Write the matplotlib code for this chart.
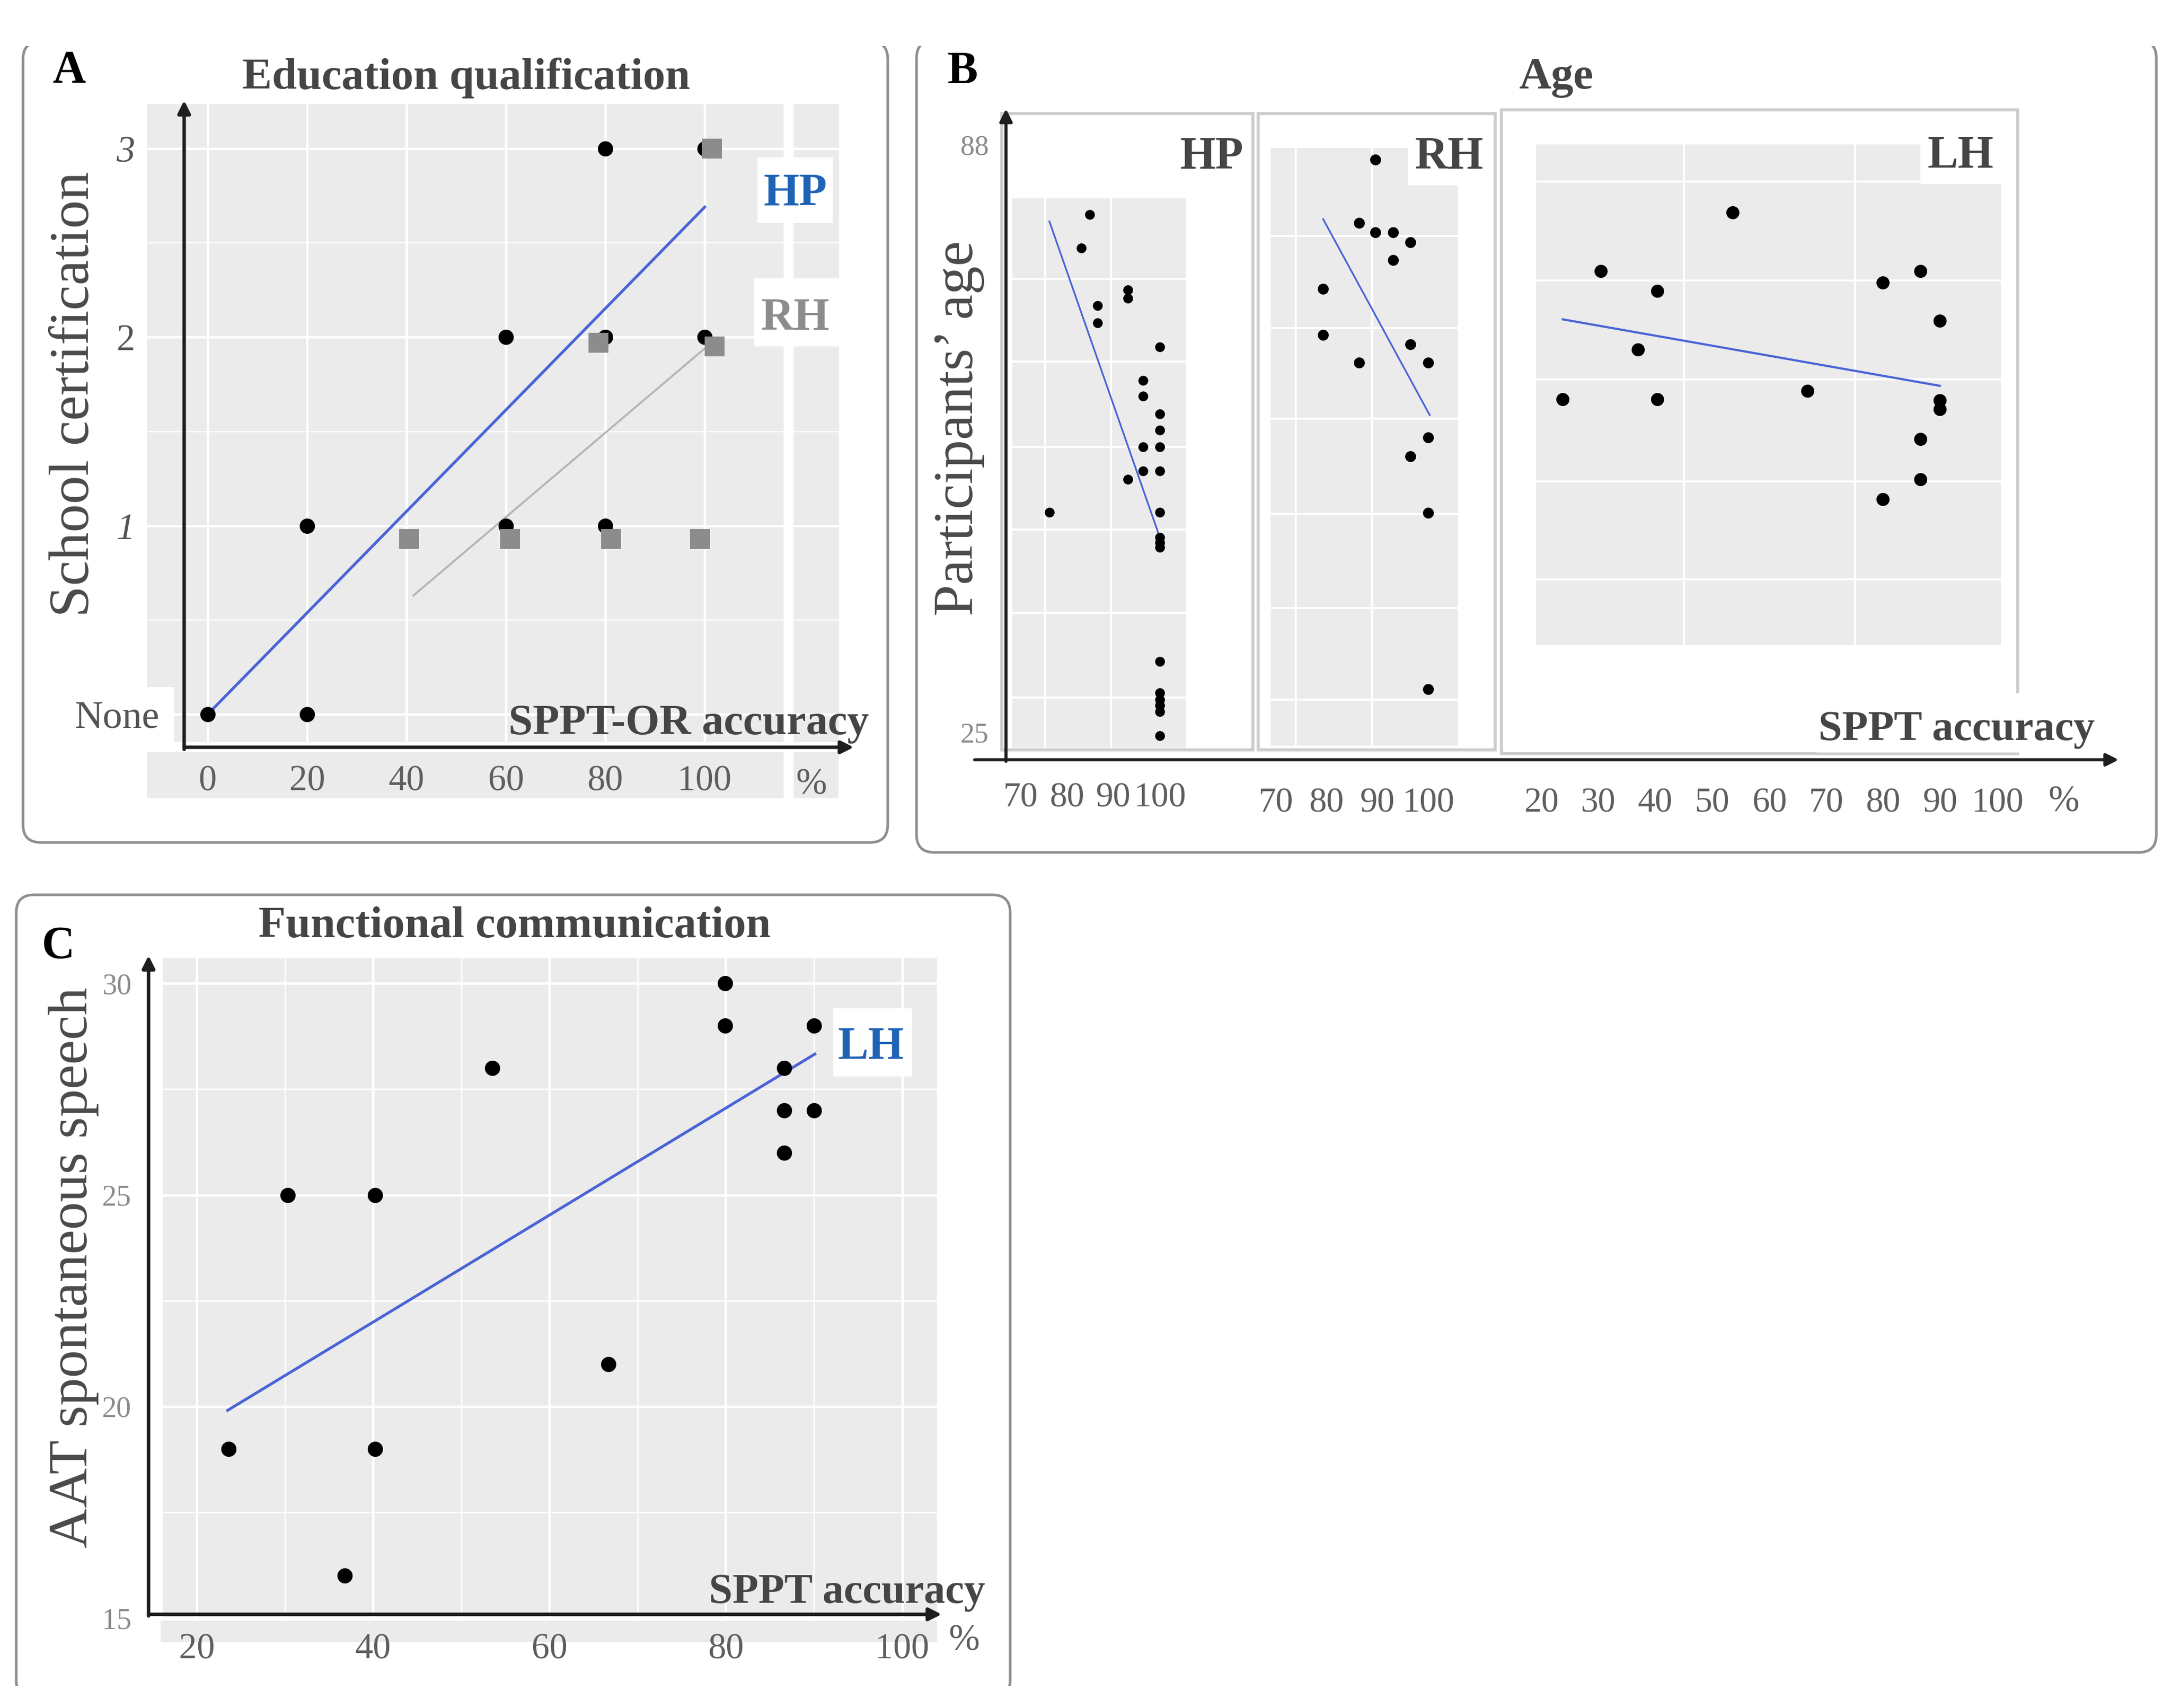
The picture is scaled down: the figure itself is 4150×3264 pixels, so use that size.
import matplotlib
matplotlib.use('Agg')
import matplotlib.pyplot as plt
from matplotlib.patches import FancyBboxPatch, Rectangle
from matplotlib.transforms import ScaledTranslation

plt.rcParams['font.family'] = ['Liberation Serif', 'DejaVu Serif']

# ------------------------------------------------------------------ data
# Panel A : school certification vs SPPT-OR accuracy
a_acc_ticks = [0, 20, 40, 60, 80, 100]
a_acc_labels = ['0', '20', '40', '60', '80', '100']
a_cert_levels = [0, 1, 2, 3]
a_cert_labels = ['None', '1', '2', '3']
a_hp_acc = [0, 20, 20, 60, 60, 80, 80, 80, 100, 100]
a_hp_cert = [0, 0, 1, 2, 1, 3, 2, 1, 3, 2]
a_rh_acc = [101.5, 78.6, 102, 40.5, 60.8, 81.2, 99]
a_rh_cert = [3.0, 1.97, 1.95, 0.93, 0.93, 0.93, 0.93]
a_hp_fit_acc = [0, 100]
a_hp_fit_cert = [0.0, 2.69]
a_rh_fit_acc = [41.4, 100]
a_rh_fit_cert = [0.63, 1.94]

# Panel B : participants' age vs SPPT accuracy, by group
b_age_ticks = [25, 88]
b_hp_ticks = [70, 80, 90, 100]
b_rh_ticks = [70, 80, 90, 100]
b_lh_ticks = [20, 30, 40, 50, 60, 70, 80, 90, 100]
b_hp_acc = [84.9, 83.1, 93.2, 93.2, 86.6, 86.6, 100, 96.4, 96.4, 100, 100, 100, 96.4,
            100, 96.4, 93.2, 76.3, 100, 100, 100, 100, 100, 100, 100, 100, 100, 100]
b_hp_age = [80.5, 76.9, 72.4, 71.5, 70.7, 68.9, 66.3, 62.7, 61.0, 59.1, 57.4, 55.6, 55.6,
            53.0, 53.0, 52.1, 48.6, 48.6, 45.9, 45.3, 44.8, 32.6, 29.2, 28.5, 27.9, 27.2, 24.6]
b_rh_acc = [89.6, 86.4, 89.6, 93.1, 96.5, 93.1, 79.3, 79.3, 96.5, 86.4, 100, 100, 96.5, 100, 100]
b_rh_age = [86.4, 79.6, 78.6, 78.6, 77.5, 75.6, 72.5, 67.6, 66.6, 64.6, 64.6, 56.6, 54.6, 48.5, 29.6]
b_lh_acc = [53.6, 30.5, 86.5, 79.9, 40.4, 89.9, 37.0, 66.7, 23.8, 40.4, 89.9, 89.9, 86.5, 86.5, 79.9]
b_lh_age = [80.7, 74.4, 74.4, 73.2, 72.3, 69.1, 66.0, 61.6, 60.7, 60.7, 60.6, 59.6, 56.4, 52.1, 50.0]
b_hp_fit_acc = [76.25, 99.8]
b_hp_fit_age = [79.74, 46.23]
b_rh_fit_acc = [79.3, 100.3]
b_rh_fit_age = [80.0, 59.0]
b_lh_fit_acc = [23.8, 89.9]
b_lh_fit_age = [69.25, 62.13]

# Panel C : AAT spontaneous speech vs SPPT accuracy (LH)
c_acc_ticks = [20, 40, 60, 80, 100]
c_aat_ticks = [15, 20, 25, 30]
c_acc = [23.6, 30.3, 36.8, 40.2, 40.2, 53.5, 66.7, 79.9, 79.9, 86.6, 86.6, 86.6, 90.0, 90.0]
c_aat = [19, 25, 16, 25, 19, 28, 21, 30, 29, 28, 27, 26, 29, 27]
c_fit_acc = [23.5, 90.1]
c_fit_aat = [19.91, 28.33]

# ------------------------------------------------------------------ layout helpers
W, H = 4150, 3264
DPI = 300
PT = 72.0 / DPI
GRAY = '#EBEBEB'
DARK = '#454545'
BLUE_LINE = '#4a64d6'
BLUE_TXT = '#1f63b5'
TICK = '#5e5e5e'
LIGHT_TICK = '#8a8a8a'

fig = plt.figure(figsize=(W / DPI, H / DPI), dpi=DPI)


def rect(x0, y0, x1, y1):
    return [x0 / W, 1 - y1 / H, (x1 - x0) / W, (y1 - y0) / H]


bg = fig.add_axes([0, 0, 1, 1], zorder=-5)
bg.set_xlim(0, W); bg.set_ylim(H, 0); bg.axis('off')
fg = fig.add_axes([0, 0, 1, 1], zorder=10)
fg.set_xlim(0, W); fg.set_ylim(H, 0); fg.axis('off')


def panel_box(x0, y0, x1, y1, clip):
    p = FancyBboxPatch((x0, y0), x1 - x0, y1 - y0,
                       boxstyle='round,pad=0,rounding_size=34',
                       fc='none', ec='#8f8f8f', lw=1.2, zorder=1)
    bg.add_patch(p)
    cr = Rectangle((clip[0], clip[1]), clip[2] - clip[0], clip[3] - clip[1],
                   transform=bg.transData)
    p.set_clip_path(cr)


def bg_rect(x0, y0, x1, y1, fc='none', ec='none', lw=0, z=2):
    bg.add_patch(Rectangle((x0, y0), x1 - x0, y1 - y0, fc=fc, ec=ec, lw=lw, zorder=z))


def white_box(ax, x0, y0, x1, y1):
    ax.add_patch(Rectangle((x0, y0), x1 - x0, y1 - y0, transform=fg.transData,
                           fc='white', ec='none', zorder=0.3, clip_on=False))


def style_panel(ax):
    ax.set_facecolor(GRAY)
    for s in ax.spines.values():
        s.set_visible(False)
    ax.tick_params(which='both', length=0)


def arrow(x0, y0, x1, y1, lw):
    fg.annotate('', xy=(x1, y1), xytext=(x0, y0),
                arrowprops=dict(arrowstyle='-|>', color='#1e1e1e', lw=lw,
                                mutation_scale=12, shrinkA=0, shrinkB=0))


def ftext(x, y, s, size, color=DARK, weight='bold', ha='center', va='baseline', **kw):
    fg.text(x, y, s, fontsize=size, color=color, fontweight=weight, ha=ha, va=va, **kw)


# panel frames
panel_box(44, 79, 1697, 1610, (0, 88, W, H))
panel_box(1752, 77, 4122, 1629, (0, 88, W, H))
panel_box(31, 1710, 1931, 3245, (0, 0, W, 3222))

# ------------------------------------------------------------------ Panel A
bg_rect(281, 1437, 1603, 1525, fc=GRAY)
axA = fig.add_axes(rect(281, 199, 1604, 1418))
style_panel(axA)
accA = lambda px: (px - 397) / 9.5
certA = lambda py: (1365 - py) / 360.3
axA.set_xlim(accA(281), accA(1604))
axA.set_ylim(certA(1418), certA(199))
axA.set_xticks(a_acc_ticks, a_acc_labels)
axA.set_yticks(a_cert_levels, a_cert_labels)
axA.set_yticks([0.5, 1.5, 2.5], minor=True)
axA.grid(which='major', color='white', lw=1.1)
axA.grid(which='minor', color='white', lw=0.55)
axA.xaxis.set_zorder(2.0)
axA.tick_params(axis='x', labelsize=16.5, labelcolor=TICK, pad=(1494 - 1418) * PT)
axA.tick_params(axis='y', labelsize=17, labelcolor='#555555', pad=23 * PT)
for lab in axA.get_xticklabels():
    lab.set_va('center')
yt = axA.yaxis.get_major_ticks()
yt[0].label1.set_fontsize(18)
yt[0].label1.set_transform(yt[0].label1.get_transform() +
                           ScaledTranslation(47 / DPI, 0, fig.dpi_scale_trans))
for i in (1, 3):
    yt[i].label1.set_fontstyle('italic')

white_box(axA, 1498, 199, 1517, 1525)
white_box(axA, 1448, 301, 1592, 426)
white_box(axA, 1442, 532, 1613, 662)
white_box(axA, 120, 1313, 333, 1433)

axA.plot(a_hp_fit_acc, a_hp_fit_cert, color=BLUE_LINE, lw=1.3, zorder=3)
axA.plot(a_rh_fit_acc, a_rh_fit_cert, color='#b4b4b4', lw=0.9, zorder=3)
axA.scatter(a_hp_acc, a_hp_cert, s=7 ** 2, c='black', lw=0, zorder=4, clip_on=False)
axA.scatter(a_rh_acc, a_rh_cert, s=9 ** 2, marker='s', c='#8c8c8c', lw=0, zorder=5, clip_on=False)

axA.set_ylabel('School certification', fontsize=26, color='#4a4a4a')
axA.yaxis.set_label_coords(143, 753, transform=fg.transData)
axA.yaxis.label.set_va('center')
axA.set_xlabel('SPPT-OR accuracy', fontsize=20, color=DARK, fontweight='bold')
axA.xaxis.set_label_coords(1317, 1403, transform=fg.transData)
axA.xaxis.label.set_va('baseline')

arrow(352, 1432, 352, 192, 1.6)
arrow(352, 1428, 1632, 1428, 1.6)
ftext(132, 157, 'A', 21, color='black')
ftext(891, 170, 'Education qualification', 20.5)
ftext(1520, 391, 'HP', 21, color=BLUE_TXT)
ftext(1520, 630, 'RH', 21, color='#8c8c8c')
ftext(1551, 1517, '%', 17, color=TICK, weight='normal')

# ------------------------------------------------------------------ Panel B
age = lambda py: 88 - (py - 276) / 17.83

# facet borders
for (x0, y0, x1, y1) in [(1915, 217, 2395, 1433), (2405, 217, 2858, 1433), (2870, 210, 3857, 1440)]:
    bg_rect(x0, y0, x1, y1, ec='#cdcdcd', lw=1.4, z=2)
bg_rect(3473, 1325, 4014, 1438, fc='white', z=3)

axBy = fig.add_axes(rect(1923, 212, 1935, 1452))
axBy.set_facecolor('none')
for s in axBy.spines.values():
    s.set_visible(False)
axBy.set_ylim(age(1452), age(212))
axBy.set_xticks([])
axBy.set_yticks(b_age_ticks, [str(t) for t in b_age_ticks])
axBy.tick_params(axis='y', length=0, labelsize=13, labelcolor=LIGHT_TICK, pad=8)
axBy.set_ylabel('Participants’ age', fontsize=26, color='#4a4a4a')
axBy.yaxis.set_label_coords(1833, 818, transform=fg.transData)
axBy.yaxis.label.set_va('center')


def facet(x0, y0, x1, y1, accfun, ticks, tick_cy, xgrid, ygrid):
    ax = fig.add_axes(rect(x0, y0, x1, y1))
    style_panel(ax)
    ax.set_xlim(accfun(x0), accfun(x1))
    ax.set_ylim(age(y1), age(y0))
    ax.set_xticks(ticks, [str(t) for t in ticks])
    ax.set_xticks(xgrid, minor=True)
    ax.set_yticks([])
    ax.set_yticks(ygrid, minor=True)
    ax.grid(False, which='major')
    ax.grid(True, which='minor', color='white', lw=0.9)
    ax.xaxis.set_zorder(2.0)
    ax.tick_params(axis='x', which='major', labelsize=16, labelcolor=TICK,
                   pad=(tick_cy - y1) * PT)
    for lab in ax.get_xticklabels():
        lab.set_va('center')
    return ax


axHP = facet(1935, 379, 2267, 1429, lambda p: 100 + (p - 2216.7) / 8.87, b_hp_ticks, 1525,
             [75.3, 89.5], [28.7, 37.8, 46.7, 55.6, 64.7, 73.6])
axRH = facet(2429, 283, 2787, 1425, lambda p: 100 + (p - 2730) / 9.7, b_rh_ticks, 1535,
             [73.9, 89.0], [28.5, 38.3, 48.4, 58.6, 68.3, 78.2])
axLH = facet(2936, 276, 3825, 1233, lambda p: 30 + (p - 3055) / 10.9, b_lh_ticks, 1535,
             [30, 45, 60, 75, 90], [41.4, 51.9, 62.8, 73.4, 84.0])
white_box(axRH, 2692, 225, 2848, 354)
white_box(axLH, 3671, 256, 3825, 352)

axHP.plot(b_hp_fit_acc, b_hp_fit_age, color=BLUE_LINE, lw=0.8, zorder=3)
axHP.scatter(b_hp_acc, b_hp_age, s=4.5 ** 2, c='black', lw=0, zorder=4, clip_on=False)
axRH.plot(b_rh_fit_acc, b_rh_fit_age, color=BLUE_LINE, lw=0.8, zorder=3)
axRH.scatter(b_rh_acc, b_rh_age, s=5 ** 2, c='black', lw=0, zorder=4, clip_on=False)
axLH.plot(b_lh_fit_acc, b_lh_fit_age, color=BLUE_LINE, lw=1.0, zorder=3)
axLH.scatter(b_lh_acc, b_lh_age, s=6 ** 2, c='black', lw=0, zorder=4, clip_on=False)

axLH.set_xlabel('SPPT accuracy', fontsize=19.5, color=DARK, fontweight='bold')
axLH.xaxis.set_label_coords(3740, 1414, transform=fg.transData)
axLH.xaxis.label.set_va('baseline')

arrow(1923, 1455, 1923, 208, 1.4)
arrow(1863, 1452, 4050, 1452, 1.4)
ftext(1840, 159, 'B', 21, color='black')
ftext(2974, 169, 'Age', 20.5)
ftext(2316, 321, 'HP', 21)
ftext(2770, 321, 'RH', 21)
ftext(3748, 320, 'LH', 21)
ftext(3945, 1550, '%', 17, color=TICK, weight='normal')

# ------------------------------------------------------------------ Panel C
bg_rect(307, 3097, 1791, 3138, fc=GRAY)
axC = fig.add_axes(rect(311, 1831, 1791, 3093))
style_panel(axC)
accC = lambda px: 20 + (px - 376.2) / 16.854
aatC = lambda py: 30 - (py - 1879.3) / 80.86
axC.set_xlim(accC(311), accC(1791))
axC.set_ylim(aatC(3093), aatC(1831))
axC.set_xticks(c_acc_ticks, [str(t) for t in c_acc_ticks])
axC.set_xticks([30, 50, 70, 90], minor=True)
axC.set_yticks(c_aat_ticks, [str(t) for t in c_aat_ticks])
axC.set_yticks([17.5, 22.5, 27.5], minor=True)
axC.grid(which='major', color='white', lw=1.1)
axC.grid(which='minor', color='white', lw=0.6)
axC.xaxis.set_zorder(2.0)
axC.tick_params(axis='x', labelsize=16.5, labelcolor=TICK, pad=(3153 - 3093) * PT)
axC.tick_params(axis='y', labelsize=13.5, labelcolor=LIGHT_TICK, pad=(311 - 251) * PT)
for lab in axC.get_xticklabels():
    lab.set_va('center')
white_box(axC, 1593, 1927, 1743, 2057)

axC.plot(c_fit_acc, c_fit_aat, color=BLUE_LINE, lw=1.3, zorder=3)
axC.scatter(c_acc, c_aat, s=7 ** 2, c='black', lw=0, zorder=4, clip_on=False)

axC.set_ylabel('AAT spontaneous speech', fontsize=25.5, color='#4a4a4a')
axC.yaxis.set_label_coords(141, 2422, transform=fg.transData)
axC.yaxis.label.set_va('center')
axC.set_xlabel('SPPT accuracy', fontsize=19.5, color=DARK, fontweight='bold')
axC.xaxis.set_label_coords(1619, 3063, transform=fg.transData)
axC.xaxis.label.set_va('baseline')

arrow(284, 3088, 284, 1826, 1.6)
arrow(284, 3085, 1800, 3085, 1.6)
ftext(111, 1831, 'C', 21, color='black')
ftext(984, 1791, 'Functional communication', 20.5)
ftext(1665, 2022, 'LH', 21, color=BLUE_TXT)
ftext(1843, 3153, '%', 17, color=TICK, weight='normal')

fig.savefig('out.png', dpi=DPI)
